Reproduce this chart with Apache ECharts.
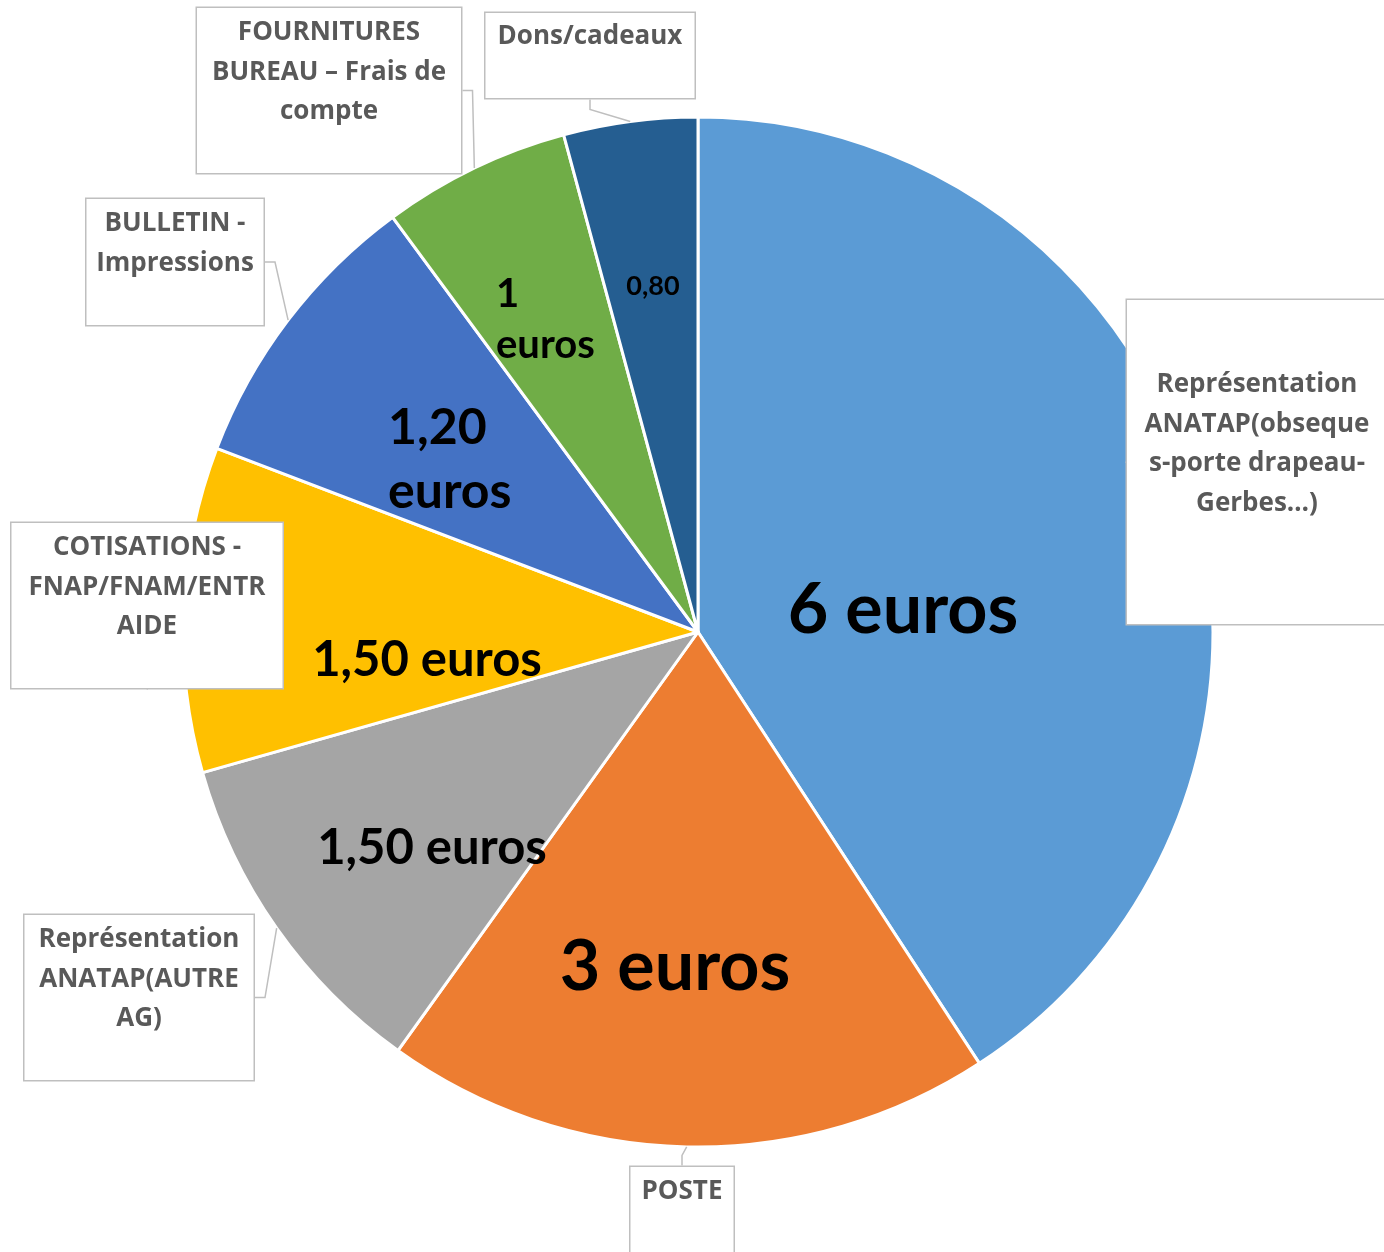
<!DOCTYPE html>
<html>
<head>
<meta charset="utf-8">
<script src="https://cdn.jsdelivr.net/npm/echarts@6/dist/echarts.min.js"></script>
<style>
  html, body { margin: 0; padding: 0; background: #fff; }
  #chart { width: 1384px; height: 1252px; }
</style>
</head>
<body>
<div id="chart"></div>
<script>
// postes de dépense (ordre horaire depuis le haut)
const categories = [
  'Représentation\nANATAP(obseque\ns-porte drapeau-\nGerbes…)',
  'POSTE',
  'Représentation\nANATAP(AUTRE\nAG)',
  'COTISATIONS -\nFNAP/FNAM/ENTR\nAIDE',
  'BULLETIN -\nImpressions',
  'FOURNITURES\nBUREAU – Frais de\ncompte',
  'Dons/cadeaux'
];
// part de chaque secteur (%)
const shares = [40.8, 19.1, 10.7, 10.2, 9.1, 5.9, 4.2];
// texte affiché dans chaque secteur
const valueLabels = ['6 euros', '3 euros', '1,50 euros', '1,50 euros', '1,20\neuros', '1\neuros', '0,80'];
const colors = ['#5B9BD5', '#ED7D31', '#A5A5A5', '#FFC000', '#4472C4', '#70AD47', '#255E91'];

// placement des étiquettes de valeur : [x, y, align, fontSize, lineHeight]
const valuePos = [
  [903, 610, 'center', 70, 74],
  [675, 967, 'center', 70, 74],
  [432, 848, 'center', 49, 54],
  [427, 660, 'center', 49, 54],
  [388, 460, 'left', 50, 64],
  [496, 320, 'left', 40, 51],
  [653, 286, 'center', 27, 30]
];
// bulles : [centre x, haut y, largeur, hauteur, marge haute]
const calloutPos = [
  [1257, 300, 260, 324, 65],
  [682, 1167, 103, 90, 5],
  [139, 915, 229, 165, 5],
  [147, 523, 271, 165, 5],
  [175, 199, 177, 126, 5],
  [329, 8, 264, 165, 5],
  [590, 13, 209, 85, 4]
];

const chart = echarts.init(document.getElementById('chart'), null, { renderer: 'canvas' });

const valueData = categories.map(function (name, i) {
  return {
    name: name,
    value: shares[i],
    itemStyle: { color: colors[i] },
    label: {
      formatter: valueLabels[i],
      fontSize: valuePos[i][3],
      lineHeight: valuePos[i][4],
      align: valuePos[i][2]
    }
  };
});

const calloutData = categories.map(function (name, i) {
  const c = calloutPos[i];
  return {
    name: name,
    value: shares[i],
    label: {
      width: c[2],
      height: c[3] - c[4],
      padding: [c[4], 0, 0, 0]
    }
  };
});

chart.setOption({
  animation: false,
  backgroundColor: '#fff',
  series: [
    {
      type: 'pie',
      center: [698, 632],
      radius: 515,
      startAngle: 90,
      clockwise: true,
      avoidLabelOverlap: false,
      silent: true,
      itemStyle: { borderColor: '#fff', borderWidth: 3 },
      label: {
        show: true,
        position: 'inside',
        color: '#000',
        fontFamily: 'Lato',
        fontWeight: 'bold'
      },
      labelLine: { show: false },
      labelLayout: function (params) {
        const p = valuePos[params.dataIndex];
        return { x: p[0], y: p[1], align: p[2], verticalAlign: 'middle' };
      },
      data: valueData
    },
    {
      type: 'pie',
      center: [698, 632],
      radius: 515,
      startAngle: 90,
      clockwise: true,
      avoidLabelOverlap: false,
      silent: true,
      z: 3,
      itemStyle: { color: 'rgba(0,0,0,0)', borderWidth: 0 },
      label: {
        show: true,
        position: 'outside',
        formatter: '{b}',
        color: '#595959',
        fontFamily: 'Open Sans',
        fontWeight: 'bold',
        fontSize: 26,
        lineHeight: 39.5,
        align: 'center',
        backgroundColor: '#fff',
        borderColor: '#BFBFBF',
        borderWidth: 1.5
      },
      labelLine: {
        show: true,
        length: 10,
        length2: 10,
        lineStyle: { color: '#BFBFBF', width: 1.5 }
      },
      labelLayout: function (params) {
        const c = calloutPos[params.dataIndex];
        return { x: c[0], y: c[1], align: 'center', verticalAlign: 'top' };
      },
      data: calloutData
    }
  ]
});
</script>
</body>
</html>
